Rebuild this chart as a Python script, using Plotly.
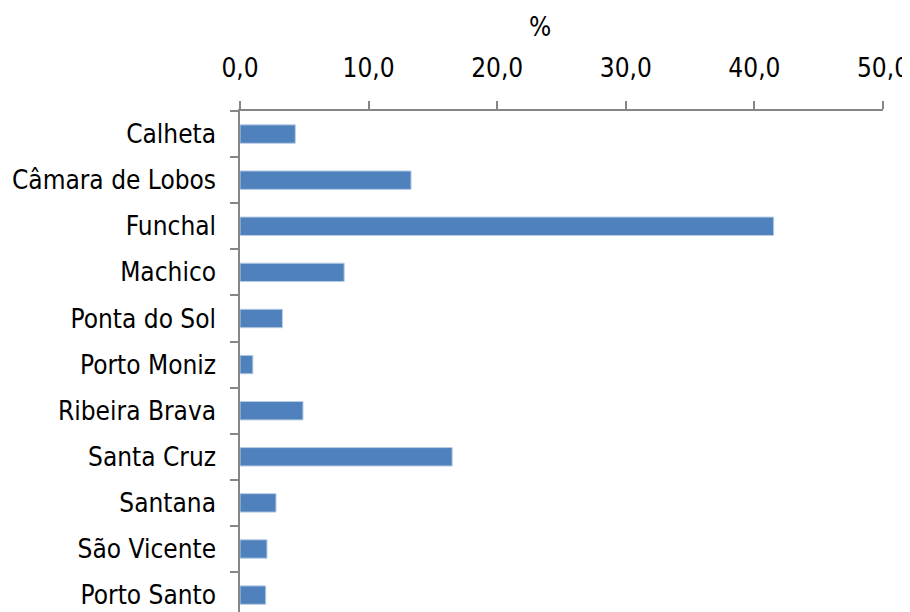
import plotly.graph_objects as go

categories = ["Calheta", "Câmara de Lobos", "Funchal", "Machico", "Ponta do Sol",
              "Porto Moniz", "Ribeira Brava", "Santa Cruz", "Santana", "São Vicente",
              "Porto Santo"]
values = [4.3, 13.3, 41.5, 8.1, 3.3, 1.0, 4.9, 16.5, 2.8, 2.1, 2.0]
x_ticks = [0, 10, 20, 30, 40, 50]

FONT = "DejaVu Sans Condensed, Tahoma, DejaVu Sans, sans-serif"
AXIS_COLOR = "#868686"
FS = 26

fig = go.Figure(go.Bar(
    x=values, y=categories, orientation="h",
    marker=dict(color="#4F81BD", line=dict(color="#B9CDE5", width=1)),
))

fig.update_layout(
    width=910, height=612,
    margin=dict(l=232, r=35, t=103, b=0, pad=0),
    plot_bgcolor="white", paper_bgcolor="white",
    separators=",.",
    showlegend=False,
    bargap=0.6,
    font=dict(family=FONT, size=FS, color="#000000"),
    xaxis=dict(
        side="top", range=[0, 50], tickvals=x_ticks, tickformat=".1f",
        showgrid=False, zeroline=False, automargin=False,
        showline=True, linecolor=AXIS_COLOR, linewidth=1.5,
        ticks="outside", ticklen=8, tickcolor=AXIS_COLOR, tickwidth=1.5,
        ticklabelstandoff=14,
        tickfont=dict(family=FONT, size=FS),
    ),
    yaxis=dict(
        type="category", range=[10.54, -0.5],
        showgrid=False, zeroline=False, automargin=False,
        showline=True, linecolor=AXIS_COLOR, linewidth=1.5,
        ticks="outside", ticklen=8, tickcolor=AXIS_COLOR, tickwidth=1.5,
        tickson="boundaries", ticklabelstandoff=17,
        tickfont=dict(family=FONT, size=FS),
    ),
    annotations=[dict(
        text="%", xref="paper", yref="paper", x=0.467, y=1,
        yshift=84, yanchor="middle", showarrow=False,
        font=dict(family=FONT, size=FS),
    )],
)

fig.write_html("out.html")
